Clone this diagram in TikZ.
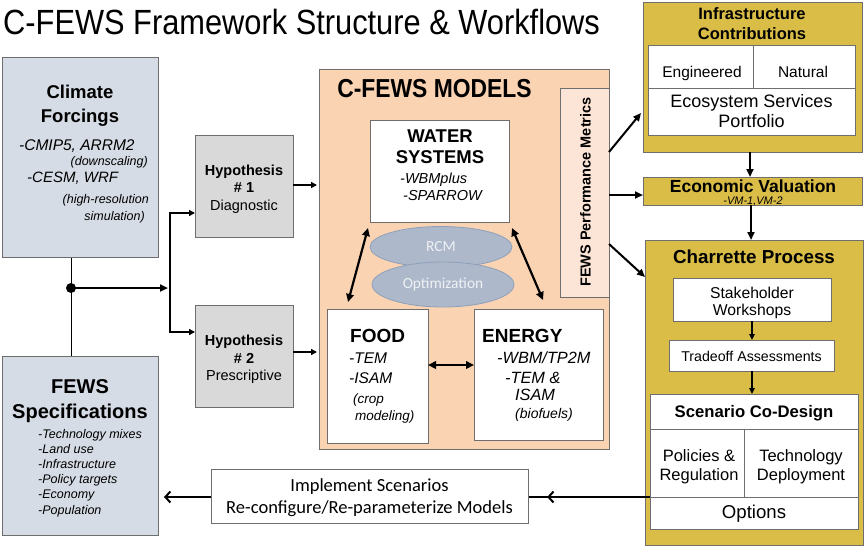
\documentclass[tikz,border=0pt]{standalone}
\usepackage{fontspec}
\setmainfont{Liberation Sans}
\newfontfamily\titlefont[FakeStretch=0.88]{Liberation Sans}
\newfontfamily\calib{Carlito}
\usetikzlibrary{arrows.meta,decorations.markings,shapes.geometric}
\newcommand\fsz[1]{\fontsize{#1}{1.2\dimexpr#1pt\relax}\selectfont}
\definecolor{climfill}{HTML}{D6DCE5}
\definecolor{hypfill}{HTML}{D9D9D9}
\definecolor{peach}{HTML}{FAD3B3}
\definecolor{metfill}{HTML}{FCE4D6}
\definecolor{ellfill}{HTML}{ADB9CA}
\definecolor{elldraw}{HTML}{8EA0B9}
\definecolor{elltext}{HTML}{EEF0F4}
\definecolor{gold}{HTML}{D9BD47}
\definecolor{bgray}{HTML}{6E6E6E}
\begin{document}
\begin{tikzpicture}[x=1pt,y=-1pt,
  box/.style={draw=bgray, line width=1pt, inner sep=0pt, anchor=north west},
  t/.style={inner sep=0pt, anchor=mid, yshift=-3pt},
  tl/.style={inner sep=0pt, anchor=mid west, yshift=-3pt},
  tr/.style={inner sep=0pt, anchor=mid east, yshift=-3pt},
  tm/.style={inner sep=0pt, anchor=center, align=center},
  ell/.style={ellipse, draw=elldraw, line width=0.8pt, fill=ellfill, inner sep=0pt, text=elltext, font=\calib\fsz{15.4}},
  arr/.style={line width=2pt, -{Triangle[length=8pt,width=7pt]}},
  harr/.style={line width=1.6pt, -{Triangle[length=6pt,width=6pt]}},
  darr/.style={line width=2.2pt, {Triangle[length=8pt,width=7.5pt]}-{Triangle[length=8pt,width=7.5pt]}},
  sarr/.style={line width=1.4pt, -{Triangle[length=6pt,width=5.5pt]}},
  barb/.style={line width=2pt}
]
\useasboundingbox (0,0) rectangle (865,547);
\fill[white] (0,0) rectangle (865,547);

% title
\node[inner sep=0pt, anchor=base west, font=\titlefont\fsz{35}] (title) at (3,34) {C-FEWS Framework Structure \& Workflows};

% left boxes
\node[box, fill=climfill, minimum width=156, minimum height=200] (clim) at (2,57) {};
\node[t, font=\bfseries\fsz{18.5}] (climA) at (80,93) {Climate};
\node[t, font=\bfseries\fsz{18.5}] (climB) at (80,117) {Forcings};
\node[tl, font=\itshape\fsz{15.5}] (c1) at (19,145) {-CMIP5, ARRM2};
\node[tr, font=\itshape\fsz{12.5}] (c2) at (148,160) {(downscaling)};
\node[tl, font=\itshape\fsz{15}] (c3) at (27,177) {-CESM, WRF};
\node[tr, font=\itshape\fsz{12.5}] (c4) at (149,198) {(high-resolution};
\node[tr, font=\itshape\fsz{12.5}] (c5) at (145,215) {simulation)};

\node[box, fill=climfill, minimum width=156, minimum height=179] (fews) at (2,356) {};
\node[t, font=\bfseries\fsz{20}] (fA) at (80,388) {FEWS};
\node[t, font=\bfseries\fsz{20}] (fB) at (80,413) {Specifications};
\node[tl, font=\itshape\fsz{12.5}] (f1) at (38,433) {-Technology mixes};
\node[tl, font=\itshape\fsz{12.5}] (f2) at (38,448) {-Land use};
\node[tl, font=\itshape\fsz{12.5}] (f3) at (38,463) {-Infrastructure};
\node[tl, font=\itshape\fsz{12.5}] (f4) at (38,478) {-Policy targets};
\node[tl, font=\itshape\fsz{12.5}] (f5) at (38,493) {-Economy};
\node[tl, font=\itshape\fsz{12.5}] (f6) at (38,509) {-Population};

% climate/fews junction
\coordinate (dot) at (71,288);
\coordinate (jm) at (170,288);
\coordinate (jt) at (170,213);
\coordinate (jb) at (170,332);
\draw[line width=1pt] (clim.south -| dot) -- (fews.north -| dot);
\fill (dot) circle[radius=5pt];
\draw[arr, shorten >=2pt] (dot) -- (jm);
\draw[line width=2pt] (jt) -- (jb);

% hypotheses
\node[box, fill=hypfill, minimum width=98, minimum height=102] (h1) at (195,135) {};
\node[t, font=\bfseries\fsz{14.5}] (h1a) at (244,170) {Hypothesis};
\node[t, font=\bfseries\fsz{14.5}] (h1b) at (244,187) {\# 1};
\node[t, font=\fsz{14.5}] (h1c) at (244,205) {Diagnostic};
\node[box, fill=hypfill, minimum width=98, minimum height=102] (h2) at (195,305) {};
\node[t, font=\bfseries\fsz{14.5}] (h2a) at (244,340) {Hypothesis};
\node[t, font=\bfseries\fsz{14.5}] (h2b) at (244,358) {\# 2};
\node[t, font=\fsz{14.5}] (h2c) at (244,375) {Prescriptive};
\draw[harr] ([xshift=-1pt]jt) -- (jt -| h1.west);
\draw[harr] ([xshift=-1pt]jb) -- (jb -| h2.west);

% models
\node[box, fill=peach, minimum width=290, minimum height=380] (models) at (319,69) {};
\node[t, font=\titlefont\bfseries\fsz{26}] (mT) at (434.5,92) {C-FEWS MODELS};
\coordinate (h1o) at (293,185);
\coordinate (h2o) at (293,352);
\draw[harr, shorten >=2pt] (h1o) -- (h1o -| models.west);
\draw[harr, shorten >=2pt] (h2o) -- (h2o -| models.west);

\node[box, fill=white, minimum width=139, minimum height=102] (water) at (370,120) {};
\node[t, font=\bfseries\fsz{18.5}] (wA) at (440,137) {WATER};
\node[t, font=\bfseries\fsz{18.5}] (wB) at (440,158) {SYSTEMS};
\node[tl, font=\itshape\fsz{14.5}] (w1) at (400,178) {-WBMplus};
\node[tl, font=\itshape\fsz{14.5}] (w2) at (403,195) {-SPARROW};

\node[box, fill=metfill, minimum width=49, minimum height=209] (met) at (560,88) {};
\node[inner sep=0pt, rotate=90, font=\bfseries\fsz{14.5}] (metT) at (585.5,192) {FEWS Performance Metrics};

\node[ell, minimum width=142, minimum height=41] (rcm) at (441,247) {RCM};
\node[ell, minimum width=142, minimum height=45] (opt) at (443,284.5) {Optimization};

\node[box, fill=white, minimum width=101, minimum height=134] (food) at (327,309) {};
\node[tl, font=\bfseries\fsz{19}] (foA) at (350,337) {FOOD};
\node[tl, font=\itshape\fsz{15.5}] (fo1) at (349,358) {-TEM};
\node[tl, font=\itshape\fsz{15.5}] (fo2) at (349,378) {-ISAM};
\node[tl, font=\itshape\fsz{13.5}] (fo3) at (353,398) {(crop};
\node[tl, font=\itshape\fsz{13.5}] (fo4) at (355,415) {modeling)};

\node[box, fill=white, minimum width=129, minimum height=131] (energy) at (474,309) {};
\node[tl, font=\bfseries\fsz{19}] (enA) at (482,337) {ENERGY};
\node[tl, font=\itshape\fsz{16.3}] (en1) at (497,358) {-WBM/TP2M};
\node[tl, font=\itshape\fsz{16.3}] (en2) at (505,378) {-TEM \&};
\node[tl, font=\itshape\fsz{16.3}] (en3) at (515,395) {ISAM};
\node[tl, font=\itshape\fsz{14}] (en4) at (515,413) {(biofuels)};

\coordinate (wl) at (368,228);
\coordinate (fl) at (348,302);
\coordinate (wr) at (512,228);
\coordinate (er) at (543,300);
\draw[darr] (wl) -- (fl);
\draw[darr] (wr) -- (er);
\coordinate (fe) at (428,365);
\draw[darr] (fe) -- (fe -| energy.west);

% right column
\node[box, fill=gold, minimum width=219, minimum height=150] (infra) at (643,2) {};
\node[t, font=\bfseries\fsz{16.5}] (iA) at (752,14) {Infrastructure};
\node[t, font=\bfseries\fsz{16.5}] (iB) at (752,34) {Contributions};
\node[box, fill=white, minimum width=207, minimum height=90] (itab) at (648,45) {};
\draw[draw=bgray, line width=1pt] ([yshift=-43pt]itab.north west) -- ([yshift=-43pt]itab.north east);
\draw[draw=bgray, line width=1pt] ([xshift=105pt]itab.north west) -- ([xshift=105pt,yshift=-43pt]itab.north west);
\node[t, font=\fsz{15.5}] (eng) at (702,72) {Engineered};
\node[t, font=\fsz{15.5}] (nat) at (803,72) {Natural};
\node[t, font=\fsz{18}] (eco) at (751.5,102) {Ecosystem Services};
\node[t, font=\fsz{18}] (port) at (751.5,122) {Portfolio};

\node[box, fill=gold, minimum width=219, minimum height=28] (econ) at (643,177) {};
\node[inner sep=0pt, anchor=base, font=\bfseries\fsz{17.5}] (ecA) at (753,192.5) {Economic Valuation};
\node[inner sep=0pt, anchor=base, font=\itshape\fsz{11}] (ecB) at (753,204) {-VM-1,VM-2};

\node[box, fill=gold, minimum width=218, minimum height=305] (char) at (645,240) {};
\node[t, font=\bfseries\fsz{18.8}] (chA) at (754,258) {Charrette Process};
\node[box, fill=white, minimum width=158, minimum height=43] (stake) at (673,278) {};
\node[tm, font=\fsz{15.7}] (stT) at (752,303) {Stakeholder\\[-1pt]Workshops};
\node[box, fill=white, minimum width=165, minimum height=31] (trade) at (669,340) {};
\node[t, font=\fsz{14.2}] (trT) at (751.5,355.5) {Tradeoff Assessments};
\node[box, fill=white, minimum width=208, minimum height=135] (scen) at (650,394) {};
\draw[draw=bgray, line width=1pt] ([yshift=-35pt]scen.north west) -- ([yshift=-35pt]scen.north east);
\draw[draw=bgray, line width=1pt] ([yshift=-103pt]scen.north west) -- ([yshift=-103pt]scen.north east);
\draw[draw=bgray, line width=1pt] ([xshift=94pt,yshift=-35pt]scen.north west) -- ([xshift=94pt,yshift=-103pt]scen.north west);
\node[t, font=\bfseries\fsz{16.7}] (scA) at (754,412) {Scenario Co-Design};
\node[tm, font=\fsz{16.5}] (scL) at (699,467) {Policies \&\\[-1pt]Regulation};
\node[tm, font=\fsz{16.5}] (scR) at (801,467) {Technology\\[-1pt]Deployment};
\node[t, font=\fsz{18.6}] (scO) at (754,513) {Options};

\coordinate (m1) at (609,152);
\coordinate (i1) at (641,113);
\coordinate (m2) at (609,195);
\coordinate (m3) at (609,244);
\coordinate (c3) at (645,277);
\draw[arr] (m1) -- (i1);
\draw[arr] (m2) -- (m2 -| econ.west);
\draw[arr] (m3) -- (c3);
\coordinate (ix) at (750,152);
\draw[arr] (ix) -- (ix |- econ.north);
\coordinate (ex) at (751,205);
\draw[arr] (ex) -- (ex |- char.north);
\coordinate (sx) at (752,321);
\draw[sarr] (sx) -- (sx |- trade.north);
\coordinate (tx) at (752,371);
\draw[sarr] (tx) -- (tx |- scen.north);

% implement
\node[box, fill=white, minimum width=317, minimum height=54] (impl) at (211,469) {};
\node[tm, font=\calib\fsz{18.5}] (imT) at (369.5,498) {Implement Scenarios\\[0pt]Re-configure/Re-parameterize Models};
\coordinate (sl) at (650,497);
\draw[barb, postaction={decorate}, decoration={markings, mark=at position 0.85 with {\arrow{Straight Barb[length=5pt,width=11pt,line width=2pt]}}}] (sl) -- (sl -| impl.east);
\draw[barb, -{Straight Barb[length=5pt,width=11pt]}, shorten >=5pt] (sl -| impl.west) -- (sl -| fews.east);
\end{tikzpicture}
\end{document}
